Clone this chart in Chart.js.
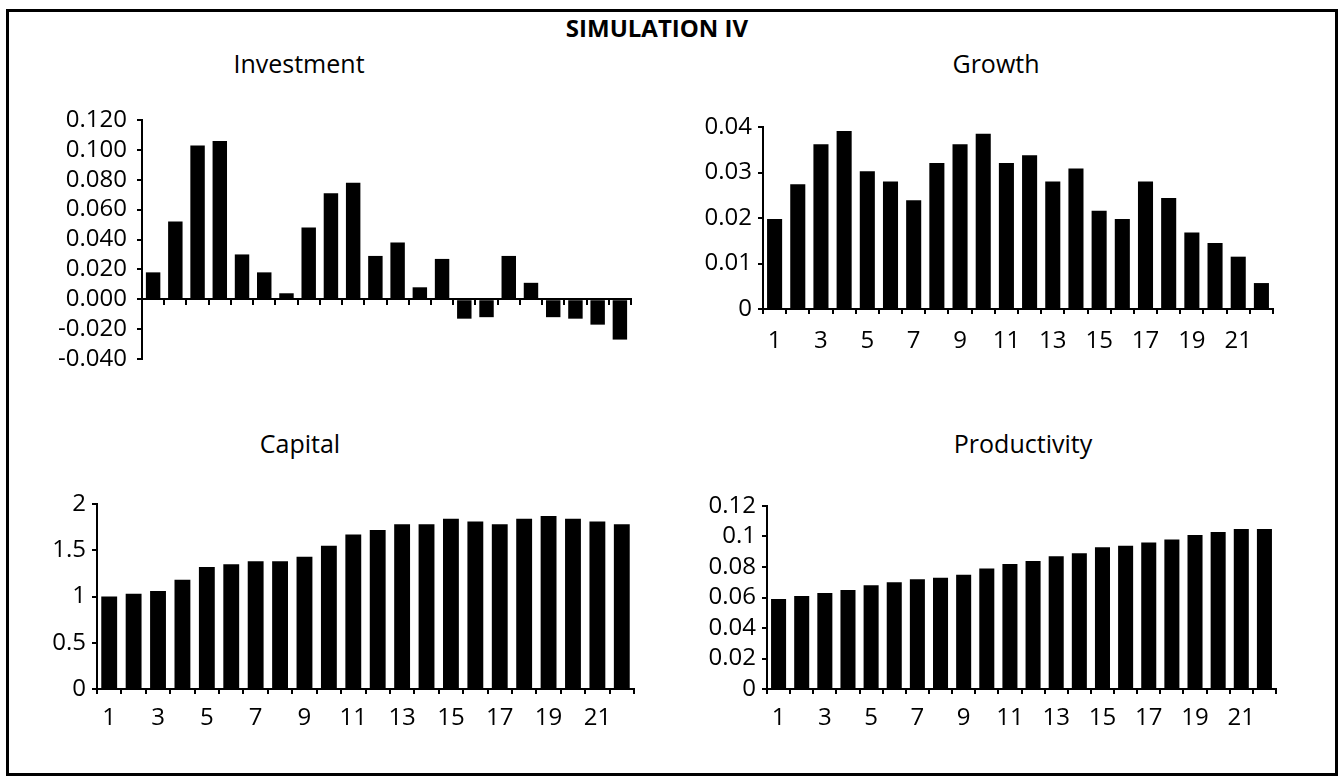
<!DOCTYPE html>
<html>
<head>
    <title>SIMULATION IV</title>
    <script src="https://cdn.jsdelivr.net/npm/chart.js"></script>
    <style>
        body {
            margin: 0;
            width: 1340px;
            height: 777px;
            background: #fff;
            position: relative;
            overflow: hidden;
            font-family: 'Open Sans', sans-serif;
            color: #000;
        }
        .frame {
            position: absolute;
            left: 6px;
            top: 9px;
            width: 1332px;
            height: 767px;
            border: 3px solid #000;
            box-sizing: border-box;
        }
        .title {
            position: absolute;
            line-height: 1;
            white-space: nowrap;
            transform: translateX(-50%);
        }
        .main-title {
            font-size: 24px;
            font-weight: bold;
        }
        .panel-title {
            font-size: 25px;
        }
        canvas {
            position: absolute;
        }
    </style>
</head>
<body>
    <div class="frame"></div>
    <div class="title main-title" style="left:657px; top:16px;">SIMULATION IV</div>
    <div class="title panel-title" style="left:299px; top:51px;">Investment</div>
    <div class="title panel-title" style="left:996px; top:51px;">Growth</div>
    <div class="title panel-title" style="left:300px; top:431px;">Capital</div>
    <div class="title panel-title" style="left:1023px; top:431px;">Productivity</div>

    <canvas id="invChart" width="610" height="275" style="left:40px; top:100px; width:610px; height:275px;"></canvas>
    <canvas id="growthChart" width="620" height="260" style="left:680px; top:105px; width:620px; height:260px;"></canvas>
    <canvas id="capitalChart" width="640" height="260" style="left:20px; top:480px; width:640px; height:260px;"></canvas>
    <canvas id="prodChart" width="620" height="260" style="left:680px; top:480px; width:620px; height:260px;"></canvas>

    <script>
        // periods 1..22
        const periods = ['1', '2', '3', '4', '5', '6', '7', '8', '9', '10', '11',
                         '12', '13', '14', '15', '16', '17', '18', '19', '20', '21', '22'];

        // values
        const investment = [0.018, 0.052, 0.103, 0.106, 0.030, 0.018, 0.004, 0.048, 0.071, 0.078, 0.029,
                            0.038, 0.008, 0.027, -0.013, -0.012, 0.029, 0.011, -0.012, -0.013, -0.017, -0.027];
        const growth = [0.0198, 0.0274, 0.0362, 0.0391, 0.0303, 0.0280, 0.0239, 0.0321, 0.0362, 0.0385, 0.0321,
                        0.0338, 0.0280, 0.0309, 0.0216, 0.0198, 0.0280, 0.0244, 0.0168, 0.0145, 0.0115, 0.0057];
        const capital = [1.00, 1.03, 1.06, 1.18, 1.32, 1.35, 1.38, 1.38, 1.43, 1.55, 1.67,
                         1.72, 1.78, 1.78, 1.84, 1.81, 1.78, 1.84, 1.87, 1.84, 1.81, 1.78];
        const productivity = [0.059, 0.061, 0.063, 0.065, 0.068, 0.070, 0.072, 0.073, 0.075, 0.079, 0.082,
                              0.084, 0.087, 0.089, 0.093, 0.094, 0.096, 0.098, 0.101, 0.103, 0.105, 0.105];

        // y axis ranges
        const invTicks = { min: -0.04, max: 0.12, step: 0.02, decimals: 3 };
        const growthTicks = { min: 0, max: 0.04, step: 0.01, decimals: null };
        const capitalTicks = { min: 0, max: 2, step: 0.5, decimals: null };
        const prodTicks = { min: 0, max: 0.12, step: 0.02, decimals: null };

        Chart.defaults.font.family = "'Open Sans', sans-serif";
        Chart.defaults.color = '#000';

        const tickFont = { size: 24 };

        function formatter(decimals) {
            return function(v) {
                const r = Math.round(v * 1e6) / 1e6;
                return decimals === null ? String(r) : r.toFixed(decimals);
            };
        }

        // keep the plot area where the layout padding puts it
        function noScalePadding(s) {
            s.paddingTop = 0;
            s.paddingBottom = 0;
            s.paddingLeft = 0;
            s.paddingRight = 0;
        }

        function makeChart(id, values, range, opts) {
            return new Chart(document.getElementById(id), {
                type: 'bar',
                data: {
                    labels: periods,
                    datasets: [{
                        data: values,
                        backgroundColor: '#000',
                        borderWidth: 0,
                        categoryPercentage: 1,
                        barPercentage: 0.65
                    }]
                },
                options: {
                    responsive: false,
                    animation: false,
                    devicePixelRatio: 1,
                    layout: { padding: opts.padding },
                    plugins: {
                        legend: { display: false },
                        tooltip: { enabled: false }
                    },
                    scales: {
                        x: {
                            position: opts.xAtZero ? { y: 0 } : 'bottom',
                            offset: true,
                            grid: {
                                offset: true,
                                drawOnChartArea: false,
                                drawTicks: true,
                                tickLength: 5,
                                color: '#000',
                                lineWidth: 2
                            },
                            border: { color: '#000', width: 2 },
                            ticks: {
                                display: !opts.xAtZero,
                                autoSkip: false,
                                maxRotation: 0,
                                padding: opts.xPad || 8,
                                font: tickFont,
                                callback: (v, i) => i % 2 === 0 ? periods[i] : ''
                            },
                            afterFit: s => {
                                if (opts.xHeight) s.height = opts.xHeight;
                                noScalePadding(s);
                            }
                        },
                        y: {
                            min: range.min,
                            max: range.max,
                            grid: {
                                drawOnChartArea: false,
                                drawTicks: true,
                                tickLength: 5,
                                color: '#000',
                                lineWidth: 2
                            },
                            border: { color: '#000', width: 2 },
                            ticks: {
                                stepSize: range.step,
                                autoSkip: false,
                                padding: opts.yPad || 6,
                                font: tickFont,
                                callback: formatter(range.decimals)
                            },
                            afterFit: s => {
                                s.width = opts.yWidth;
                                noScalePadding(s);
                            }
                        }
                    }
                }
            });
        }

        makeChart('invChart', investment, invTicks, {
            xAtZero: true, yWidth: 102, yPad: 10,
            padding: { top: 20, right: 19, bottom: 16, left: 0 }
        });
        makeChart('growthChart', growth, growthTicks, {
            yWidth: 83, xHeight: 56, xPad: 13,
            padding: { top: 22, right: 27, bottom: 0, left: 0 }
        });
        makeChart('capitalChart', capital, capitalTicks, {
            yWidth: 77, xHeight: 51, xPad: 10,
            padding: { top: 24, right: 26, bottom: 0, left: 0 }
        });
        makeChart('prodChart', productivity, prodTicks, {
            yWidth: 87, xHeight: 51, xPad: 10,
            padding: { top: 26, right: 24, bottom: 0, left: 0 }
        });
    </script>
</body>
</html>
